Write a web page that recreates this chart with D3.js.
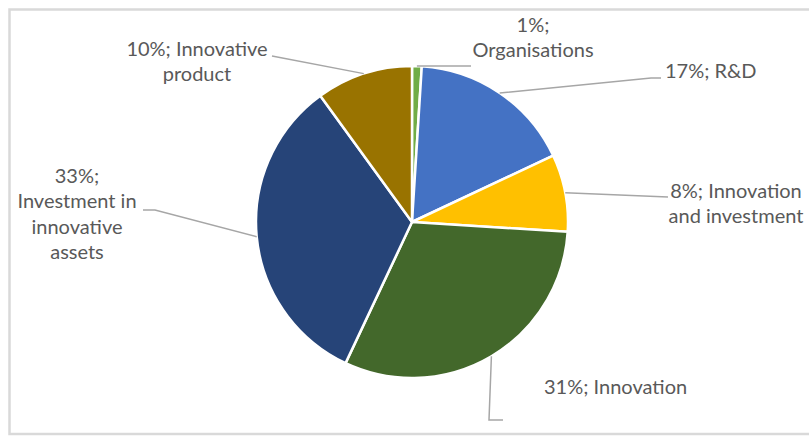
<!DOCTYPE html>
<html>
<head>
<meta charset="utf-8">
<script src="https://cdn.jsdelivr.net/npm/d3@7"></script>
<style>
  html, body { margin: 0; padding: 0; background: #fff; }
  svg { display: block; }
</style>
</head>
<body>
<svg id="chart" width="809" height="436"></svg>
<script>
// Share of spending by type
const categories = ["Organisations", "R&D", "Innovation and investment", "Innovation", "Investment in innovative assets", "Innovative product"];
const shares = [1, 17, 8, 31, 33, 10];
const labelLines = [
  ["1%;", "Organisations"],
  ["17%; R&D"],
  ["8%; Innovation", "and investment"],
  ["31%; Innovation"],
  ["33%;", "Investment in", "innovative", "assets"],
  ["10%; Innovative", "product"]
];
const colors = ["#70AD47", "#4472C4", "#FFC000", "#43682B", "#264478", "#997300"];

const width = 809, height = 436;
const cx = 412, cy = 222, radius = 156;

// Label anchor, text alignment and leader-line bends for each slice
const labelLayout = [
  { x: 533, y: 32, anchor: "middle", bends: [[471, 66]] },
  { x: 665, y: 78, anchor: "start", bends: [[651, 78], [661, 78]] },
  { x: 736, y: 198, anchor: "middle", bends: [[668, 197]] },
  { x: 544, y: 394, anchor: "start", bends: [[489, 420], [503, 420]] },
  { x: 77, y: 183, anchor: "middle", bends: [[155, 210], [143, 210]] },
  { x: 197, y: 56, anchor: "middle", bends: [[272, 56]] }
];
const lineHeight = 25.3;

const svg = d3.select("#chart");

// Outer frame
svg.append("rect")
  .attr("x", 9.5).attr("y", 9.5)
  .attr("width", width + 20).attr("height", 424.5)
  .attr("fill", "none")
  .attr("stroke", "#d9d9d9")
  .attr("stroke-width", 2.5);

const data = categories.map((c, i) => ({ name: c, value: shares[i], color: colors[i], lines: labelLines[i], layout: labelLayout[i] }));

const pie = d3.pie().value(d => d.value).sort(null);
const arc = d3.arc().innerRadius(0).outerRadius(radius);
const arcs = pie(data);

const g = svg.append("g").attr("transform", `translate(${cx},${cy})`);

g.selectAll("path.slice")
  .data(arcs)
  .join("path")
  .attr("class", "slice")
  .attr("d", arc)
  .attr("fill", d => d.data.color)
  .attr("stroke", "#fff")
  .attr("stroke-width", 2.5)
  .attr("stroke-linejoin", "round");

// Leader lines from the slice edge to its label
const line = d3.line();
svg.selectAll("path.leader")
  .data(arcs)
  .join("path")
  .attr("class", "leader")
  .attr("d", d => {
    const mid = (d.startAngle + d.endAngle) / 2;
    const start = [cx + radius * Math.sin(mid), cy - radius * Math.cos(mid)];
    return line([start, ...d.data.layout.bends]);
  })
  .attr("fill", "none")
  .attr("stroke", "#a6a6a6")
  .attr("stroke-width", 1.5);

// Data labels
const labels = svg.selectAll("text.label")
  .data(arcs)
  .join("text")
  .attr("class", "label")
  .attr("x", d => d.data.layout.x)
  .attr("y", d => d.data.layout.y)
  .attr("text-anchor", d => d.data.layout.anchor)
  .attr("fill", "#595959")
  .style("font-family", "Lato, 'Open Sans', sans-serif")
  .style("font-size", "20px");

labels.selectAll("tspan")
  .data(d => d.data.lines.map(t => ({ t, x: d.data.layout.x })))
  .join("tspan")
  .attr("x", d => d.x)
  .attr("dy", (d, i) => i === 0 ? 0 : lineHeight)
  .text(d => d.t);
</script>
</body>
</html>
